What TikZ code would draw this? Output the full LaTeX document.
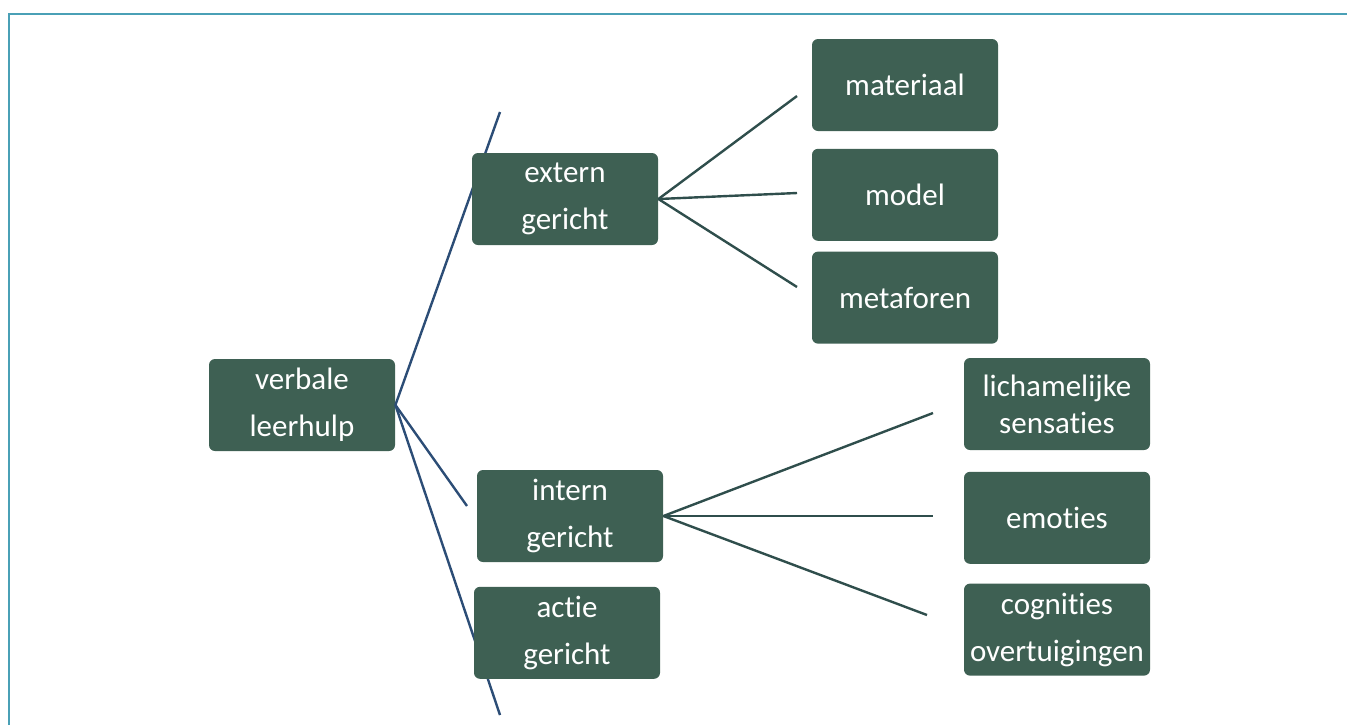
\documentclass[tikz,border=0pt]{standalone}
\usepackage{fontspec}
\setmainfont{Carlito}[Ligatures=NoCommon]
\usepackage{xcolor}
\usepackage{tikz}
\usetikzlibrary{positioning}

\definecolor{boxgreen}{HTML}{3E6053}
\definecolor{rootline}{HTML}{2C4D76}
\definecolor{leafline}{HTML}{2F4E4C}
\definecolor{frameteal}{HTML}{4AA0B6}

\begin{document}
\begin{tikzpicture}[x=0.5pt, y=-0.5pt,
  font=\fontsize{15.5}{23.5}\selectfont,
  hulpbox/.style={fill=boxgreen, rounded corners=3pt, text=white, minimum width=93pt, minimum height=46pt, align=center, inner sep=1pt},
  tak/.style={draw=rootline, line width=1.2pt},
  blad/.style={draw=leafline, line width=1.2pt}]
\useasboundingbox (0,0) rectangle (1347,725);
\draw[frameteal, line width=1.1pt] (9,725) -- (9,14) -- (1347,14);
% free ends of the connectors
\coordinate (top) at (500,112);
\coordinate (bottom) at (500,715);
\coordinate (int) at (467,506);
\coordinate (e1) at (797,96);
\coordinate (e2) at (797,193);
\coordinate (e3) at (797,287);
\coordinate (i1) at (933,413);
\coordinate (i2) at (933,516);
\coordinate (i3) at (927,615);
\node[hulpbox] (verbale) at (302,405) {verbale\\leerhulp};
% lines behind the boxes
\draw[tak] (verbale.east) -- (top);
\draw[tak] (verbale.east) -- (int);
\draw[tak] (verbale.east) -- (bottom);
\node[hulpbox] (extern) at (565,199) {extern\\gericht};
\node[hulpbox] (intern) at (570,516) {intern\\gericht};
\node[hulpbox, below=12pt of intern.south west, anchor=north west, xshift=-1.5pt] (actie) {actie\\gericht};
\node[hulpbox] (materiaal) at (905,85) {materiaal};
\node[hulpbox, below=8.5pt of materiaal] (model) {model};
\node[hulpbox, below=5pt of model] (metaforen) {metaforen};
\node[hulpbox, font=\fontsize{15.5}{18.5}\selectfont] (lichaam) at (1057,404) {lichamelijke\\sensaties};
\node[hulpbox, below=10.5pt of lichaam] (emoties) {emoties};
\node[hulpbox, below=9.5pt of emoties] (cognities) {cognities\\overtuigingen};
\draw[blad] (extern.east) -- (e1);
\draw[blad] (extern.east) -- (e2);
\draw[blad] (extern.east) -- (e3);
\draw[blad] (intern.east) -- (i1);
\draw[blad] (intern.east) -- (i2);
\draw[blad] (intern.east) -- (i3);
\end{tikzpicture}
\end{document}
